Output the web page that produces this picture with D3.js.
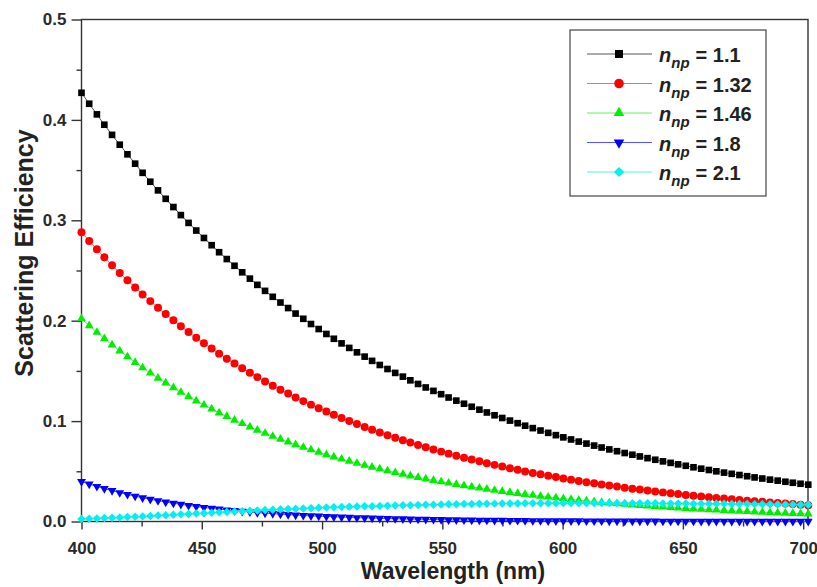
<!DOCTYPE html>
<html>
<head>
<meta charset="utf-8">
<script src="https://d3js.org/d3.v7.min.js"></script>
<style>
  body { margin: 0; background: #fff; }
  svg { display: block; font-family: "Liberation Sans", Arial, sans-serif; }
  .axis text { font-size: 17px; font-weight: bold; fill: #2a2a2a; }
  .axis line { stroke: #333; stroke-width: 1.4px; }
</style>
</head>
<body>
<svg width="817" height="587"></svg>
<script>
// wavelength (nm) of every sample
var wavelength = [
  400.0, 403.2, 406.4, 409.5, 412.7, 415.9, 419.1, 422.3, 425.4, 428.6,
  431.8, 435.0, 438.2, 441.3, 444.5, 447.7, 450.9, 454.1, 457.2, 460.4,
  463.6, 466.8, 470.0, 473.1, 476.3, 479.5, 482.7, 485.9, 489.0, 492.2,
  495.4, 498.6, 501.8, 504.9, 508.1, 511.3, 514.5, 517.7, 520.8, 524.0,
  527.2, 530.4, 533.6, 536.7, 539.9, 543.1, 546.3, 549.5, 552.6, 555.8,
  559.0, 562.2, 565.4, 568.5, 571.7, 574.9, 578.1, 581.3, 584.4, 587.6,
  590.8, 594.0, 597.2, 600.3, 603.5, 606.7, 609.9, 613.1, 616.2, 619.4,
  622.6, 625.8, 629.0, 632.1, 635.3, 638.5, 641.7, 644.9, 648.0, 651.2,
  654.4, 657.6, 660.8, 663.9, 667.1, 670.3, 673.5, 676.7, 679.8, 683.0,
  686.2, 689.4, 692.6, 695.7, 698.9, 702.1
];

// scattering efficiency, one array per n_np
var np110 = [
  0.4270, 0.4161, 0.4055, 0.3952, 0.3851, 0.3753, 0.3657, 0.3564, 0.3473, 0.3384,
  0.3298, 0.3214, 0.3132, 0.3052, 0.2974, 0.2898, 0.2824, 0.2752, 0.2682, 0.2614,
  0.2547, 0.2482, 0.2419, 0.2357, 0.2297, 0.2238, 0.2181, 0.2126, 0.2071, 0.2019,
  0.1967, 0.1917, 0.1868, 0.1820, 0.1774, 0.1729, 0.1685, 0.1642, 0.1600, 0.1559,
  0.1519, 0.1480, 0.1443, 0.1406, 0.1370, 0.1335, 0.1301, 0.1268, 0.1235, 0.1204,
  0.1173, 0.1143, 0.1114, 0.1086, 0.1058, 0.1031, 0.1005, 0.0979, 0.0954, 0.0930,
  0.0906, 0.0883, 0.0860, 0.0838, 0.0817, 0.0796, 0.0776, 0.0756, 0.0737, 0.0718,
  0.0700, 0.0682, 0.0665, 0.0648, 0.0631, 0.0615, 0.0599, 0.0584, 0.0569, 0.0555,
  0.0540, 0.0526, 0.0513, 0.0500, 0.0487, 0.0475, 0.0463, 0.0451, 0.0439, 0.0428,
  0.0417, 0.0407, 0.0396, 0.0386, 0.0376, 0.0367
];
var np132 = [
  0.2880, 0.2794, 0.2711, 0.2631, 0.2552, 0.2476, 0.2403, 0.2331, 0.2262, 0.2195,
  0.2129, 0.2066, 0.2004, 0.1945, 0.1887, 0.1831, 0.1776, 0.1723, 0.1672, 0.1622,
  0.1574, 0.1527, 0.1482, 0.1438, 0.1395, 0.1353, 0.1313, 0.1274, 0.1236, 0.1199,
  0.1164, 0.1129, 0.1096, 0.1063, 0.1031, 0.1001, 0.0971, 0.0942, 0.0914, 0.0887,
  0.0860, 0.0835, 0.0810, 0.0786, 0.0762, 0.0740, 0.0718, 0.0696, 0.0676, 0.0655,
  0.0636, 0.0617, 0.0599, 0.0581, 0.0564, 0.0547, 0.0530, 0.0515, 0.0499, 0.0484,
  0.0470, 0.0456, 0.0443, 0.0429, 0.0417, 0.0404, 0.0392, 0.0381, 0.0369, 0.0358,
  0.0348, 0.0337, 0.0327, 0.0318, 0.0308, 0.0299, 0.0290, 0.0282, 0.0273, 0.0265,
  0.0257, 0.0250, 0.0242, 0.0235, 0.0228, 0.0221, 0.0215, 0.0208, 0.0202, 0.0196,
  0.0190, 0.0184, 0.0179, 0.0174, 0.0168, 0.0163
];
var np146 = [
  0.2020, 0.1951, 0.1885, 0.1821, 0.1759, 0.1699, 0.1641, 0.1585, 0.1531, 0.1479,
  0.1428, 0.1380, 0.1333, 0.1287, 0.1243, 0.1201, 0.1160, 0.1121, 0.1082, 0.1046,
  0.1010, 0.0976, 0.0942, 0.0910, 0.0879, 0.0849, 0.0820, 0.0792, 0.0765, 0.0739,
  0.0714, 0.0690, 0.0666, 0.0644, 0.0622, 0.0601, 0.0580, 0.0560, 0.0541, 0.0523,
  0.0505, 0.0488, 0.0471, 0.0455, 0.0440, 0.0425, 0.0410, 0.0396, 0.0383, 0.0370,
  0.0357, 0.0345, 0.0333, 0.0322, 0.0311, 0.0300, 0.0290, 0.0280, 0.0270, 0.0261,
  0.0252, 0.0244, 0.0236, 0.0228, 0.0220, 0.0212, 0.0205, 0.0198, 0.0191, 0.0185,
  0.0179, 0.0172, 0.0166, 0.0161, 0.0155, 0.0150, 0.0145, 0.0140, 0.0135, 0.0131,
  0.0126, 0.0122, 0.0118, 0.0114, 0.0110, 0.0106, 0.0102, 0.0099, 0.0096, 0.0092,
  0.0089, 0.0086, 0.0083, 0.0080, 0.0078, 0.0075
];
var np180 = [
  0.0398, 0.0373, 0.0349, 0.0327, 0.0307, 0.0287, 0.0269, 0.0252, 0.0236, 0.0221,
  0.0207, 0.0194, 0.0182, 0.0171, 0.0160, 0.0150, 0.0140, 0.0131, 0.0123, 0.0115,
  0.0108, 0.0101, 0.0095, 0.0089, 0.0083, 0.0078, 0.0073, 0.0069, 0.0064, 0.0060,
  0.0056, 0.0053, 0.0050, 0.0047, 0.0044, 0.0041, 0.0038, 0.0036, 0.0034, 0.0032,
  0.0030, 0.0028, 0.0026, 0.0024, 0.0023, 0.0021, 0.0020, 0.0019, 0.0017, 0.0016,
  0.0015, 0.0014, 0.0013, 0.0013, 0.0012, 0.0011, 0.0010, 0.0010, 0.0009, 0.0008,
  0.0008, 0.0007, 0.0007, 0.0006, 0.0006, 0.0006, 0.0005, 0.0005, 0.0005, 0.0004,
  0.0004, 0.0004, 0.0004, 0.0004, 0.0004, 0.0004, 0.0003, 0.0003, 0.0003, 0.0003,
  0.0003, 0.0002, 0.0002, 0.0002, 0.0002, 0.0002, 0.0002, 0.0002, 0.0002, 0.0001,
  0.0001, 0.0001, 0.0001, 0.0001, 0.0001, 0.0001
];
var np210 = [
  0.0024, 0.0027, 0.0031, 0.0034, 0.0037, 0.0041, 0.0044, 0.0048, 0.0051, 0.0055,
  0.0059, 0.0063, 0.0067, 0.0071, 0.0075, 0.0079, 0.0083, 0.0087, 0.0091, 0.0095,
  0.0099, 0.0103, 0.0107, 0.0110, 0.0114, 0.0117, 0.0121, 0.0124, 0.0127, 0.0130,
  0.0133, 0.0136, 0.0139, 0.0141, 0.0144, 0.0146, 0.0149, 0.0151, 0.0153, 0.0155,
  0.0157, 0.0159, 0.0161, 0.0163, 0.0165, 0.0167, 0.0168, 0.0170, 0.0171, 0.0172,
  0.0174, 0.0175, 0.0176, 0.0177, 0.0178, 0.0179, 0.0179, 0.0180, 0.0181, 0.0181,
  0.0182, 0.0182, 0.0182, 0.0183, 0.0183, 0.0183, 0.0183, 0.0183, 0.0183, 0.0183,
  0.0182, 0.0182, 0.0182, 0.0181, 0.0181, 0.0181, 0.0180, 0.0180, 0.0179, 0.0179,
  0.0178, 0.0178, 0.0177, 0.0176, 0.0176, 0.0175, 0.0174, 0.0174, 0.0173, 0.0172,
  0.0171, 0.0170, 0.0170, 0.0169, 0.0168, 0.0167
];

var npLabels = ["1.1", "1.32", "1.46", "1.8", "2.1"];
var xTicks = [400, 450, 500, 550, 600, 650, 700];
var xMinor = [425, 475, 525, 575, 625, 675];
var yTicks = [0.0, 0.1, 0.2, 0.3, 0.4, 0.5];
var yMinor = [0.05, 0.15, 0.25, 0.35, 0.45];

var colors = ["#000000", "#ff0000", "#00ee00", "#0000ff", "#00f0f0"];
var lineColors = ["#555555", "#ff6666", "#66ee66", "#5555ff", "#55eeee"];

var svg = d3.select("svg"),
    margin = {top: 19.5, right: 9, bottom: 65.5, left: 81.5},
    width = +svg.attr("width") - margin.left - margin.right,
    height = +svg.attr("height") - margin.top - margin.bottom,
    g = svg.append("g").attr("transform", "translate(" + margin.left + "," + margin.top + ")");

var x = d3.scaleLinear().domain([400, 702]).range([0, width]);
var y = d3.scaleLinear().domain([0, 0.5]).range([height, 0]);

var series = [np110, np132, np146, np180, np210].map(function (vals, i) {
    return {
        label: npLabels[i],
        points: vals.map(function (v, j) { return {w: wavelength[j], v: v}; })
    };
});

// marker shapes
var sq = d3.symbol().type(d3.symbolSquare).size(44)(),
    circ = d3.symbol().type(d3.symbolCircle).size(50)(),
    tri = d3.symbol().type(d3.symbolTriangle).size(34)(),
    dia = d3.symbol().type(d3.symbolSquare).size(36)();
var shapes = [
    {d: sq, rot: 0},
    {d: circ, rot: 0},
    {d: tri, rot: 0},
    {d: tri, rot: 180},
    {d: dia, rot: 45}
];

// axes
g.append("g")
    .attr("class", "axis")
    .attr("transform", "translate(0," + height + ")")
    .call(d3.axisBottom(x).tickValues(xTicks).tickSize(8).tickPadding(12).tickSizeOuter(0))
    .call(function (a) { a.select(".domain").remove(); });

g.append("g")
    .attr("class", "axis")
    .attr("transform", "translate(0," + height + ")")
    .call(d3.axisBottom(x).tickValues(xMinor).tickSize(5).tickFormat("").tickSizeOuter(0))
    .call(function (a) { a.select(".domain").remove(); });

g.append("g")
    .attr("class", "axis")
    .call(d3.axisLeft(y).tickValues(yTicks).tickFormat(d3.format(".1f")).tickSize(10).tickPadding(5).tickSizeOuter(0))
    .call(function (a) { a.select(".domain").remove(); });

g.append("g")
    .attr("class", "axis")
    .call(d3.axisLeft(y).tickValues(yMinor).tickSize(5).tickFormat("").tickSizeOuter(0))
    .call(function (a) { a.select(".domain").remove(); });

g.append("rect")
    .attr("width", width)
    .attr("height", height)
    .attr("fill", "none")
    .attr("stroke", "#333")
    .attr("stroke-width", 1.4);

// series
var line = d3.line()
    .x(function (d) { return x(d.w); })
    .y(function (d) { return y(d.v); });

series.forEach(function (s, i) {
    var sg = g.append("g").attr("class", "serie");
    sg.append("path")
        .attr("d", line(s.points))
        .attr("fill", "none")
        .attr("stroke", lineColors[i])
        .attr("stroke-width", 1);
    sg.selectAll("path.pt")
        .data(s.points)
        .enter().append("path")
            .attr("class", "pt")
            .attr("d", shapes[i].d)
            .attr("fill", colors[i])
            .attr("transform", function (d) {
                return "translate(" + x(d.w) + "," + y(d.v) + ") rotate(" + shapes[i].rot + ")";
            });
});

// axis titles
svg.append("text")
    .attr("x", 453)
    .attr("y", 579)
    .attr("text-anchor", "middle")
    .style("font-size", "23px")
    .style("font-weight", "bold")
    .style("fill", "#222")
    .text("Wavelength (nm)");

svg.append("text")
    .attr("transform", "translate(33,253) rotate(-90)")
    .attr("text-anchor", "middle")
    .style("font-size", "25px")
    .style("font-weight", "bold")
    .style("fill", "#222")
    .text("Scattering Efficiency");

// legend
var legend = svg.append("g").attr("transform", "translate(570,30)");
legend.append("rect")
    .attr("width", 196)
    .attr("height", 166)
    .attr("fill", "none")
    .attr("stroke", "#444")
    .attr("stroke-width", 1.2);

var item = legend.selectAll(".legend")
    .data(series)
    .enter().append("g")
        .attr("class", "legend")
        .attr("transform", function (d, i) { return "translate(0," + (24 + i * 29.5) + ")"; });

item.append("line")
    .attr("x1", 17).attr("x2", 82)
    .attr("stroke", function (d, i) { return lineColors[i]; })
    .attr("stroke-width", 1);

item.append("path")
    .attr("d", function (d, i) { return shapes[i].d; })
    .attr("fill", function (d, i) { return colors[i]; })
    .attr("transform", function (d, i) { return "translate(49,0) rotate(" + shapes[i].rot + ") scale(1.2)"; });

var label = item.append("text")
    .attr("x", 89)
    .attr("y", 8)
    .style("font-size", "20px")
    .style("font-weight", "bold")
    .style("fill", "#222");
label.append("tspan").style("font-style", "italic").text("n");
label.append("tspan").style("font-style", "italic").style("font-size", "15px").attr("dy", 6).text("np");
label.append("tspan").attr("dx", 6).attr("dy", -6).text(function (d) { return "= " + d.label; });
</script>
</body>
</html>
